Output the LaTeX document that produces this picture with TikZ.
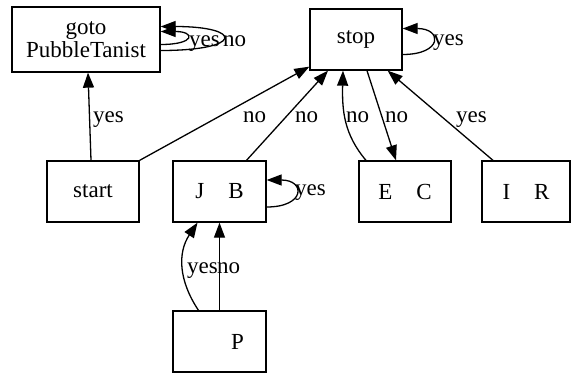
\documentclass[tikz,border=0pt]{standalone}
\usepackage{fontspec}
\setmainfont{Liberation Serif}
\usetikzlibrary{arrows.meta}
\tikzset{
  box/.style={draw, line width=1.3pt, rectangle, inner sep=0pt, minimum height=61pt, minimum width=92pt, font=\fontsize{23}{23}\selectfont, align=center},
  lab/.style={anchor=base west, inner sep=0pt, font=\fontsize{23}{23}\selectfont},
  edge/.style={line width=1.3pt, -{Triangle[length=15pt,width=11pt]}},
}
\begin{document}
\begin{tikzpicture}[x=1pt,y=-1pt]
\useasboundingbox (0,0) rectangle (571,373);
% nodes
\node[box, minimum width=148pt, minimum height=65pt] (goto) at (86,39.5) {goto\\PubbleTanist};
\node[box] (stop) at (356,39.5) {stop};
\node[box] (start) at (93,191.5) {start};
\node[box, minimum width=93pt] (jb) at (219.5,191.5) {J\hspace{24pt}B};
\node[box] (ec) at (405,191.5) {E\hspace{24pt}C};
\node[box, minimum width=88pt] (ir) at (526,191.5) {I\hspace{24pt}R};
\node[box, minimum width=93pt] (p) at (219.5,341.5) {\hspace*{36pt}P};
% edges
\draw[edge] ([xshift=-2pt]start.north) -- ([xshift=2pt]goto.south);
\draw[edge] (start.north east) -- ([yshift=4pt]stop.south west);
\draw[edge] ([xshift=27pt]jb.north) -- ([xshift=-28pt]stop.south);
\draw[edge] ([xshift=-39pt]ec.north) .. controls +(-22,-26) and +(-1,40) .. ([xshift=-13pt]stop.south);
\draw[edge] ([xshift=11pt]stop.south) -- ([xshift=-9pt]ec.north);
\draw[edge] ([xshift=-33pt]ir.north) -- ([xshift=-15pt]stop.south east);
% loops
\draw[edge] ([yshift=-5pt]goto.east) .. controls +(35,0) and +(35,0) .. ([yshift=8pt]goto.east);
\draw[edge] ([yshift=-11pt]goto.east) .. controls +(83,0) and +(83,0) .. ([yshift=13pt]goto.east);
\draw[edge] ([yshift=-15pt]stop.east) .. controls +(40,0) and +(40,0) .. ([yshift=11pt]stop.east);
\draw[edge] ([yshift=-15.5pt]jb.east) .. controls +(39,0) and +(39,0) .. ([yshift=11.5pt]jb.east);
% P -> JB
\draw[edge] ([xshift=-21pt]p.north) .. controls +(-20,-30) and +(-20,30) .. ([xshift=-22pt]jb.south);
\draw[edge] (p.north) -- (jb.south);
% labels
\node[lab] (l1) at (93,122) {yes};
\node[lab] (l2) at (243,122) {no};
\node[lab] (l3) at (295,122) {no};
\node[lab] (l4) at (346,122) {no};
\node[lab] (l5) at (385,122) {no};
\node[lab] (l6) at (456,122) {yes};
\node[lab] (l7) at (189,46) {yes};
\node[lab] (l8) at (223,46) {no};
\node[lab] (l9) at (433,45) {yes};
\node[lab] (l10) at (295,195) {yes};
\node[lab] (l11) at (187,273) {yes};
\node[lab] (l12) at (217,273) {no};
\end{tikzpicture}
\end{document}
